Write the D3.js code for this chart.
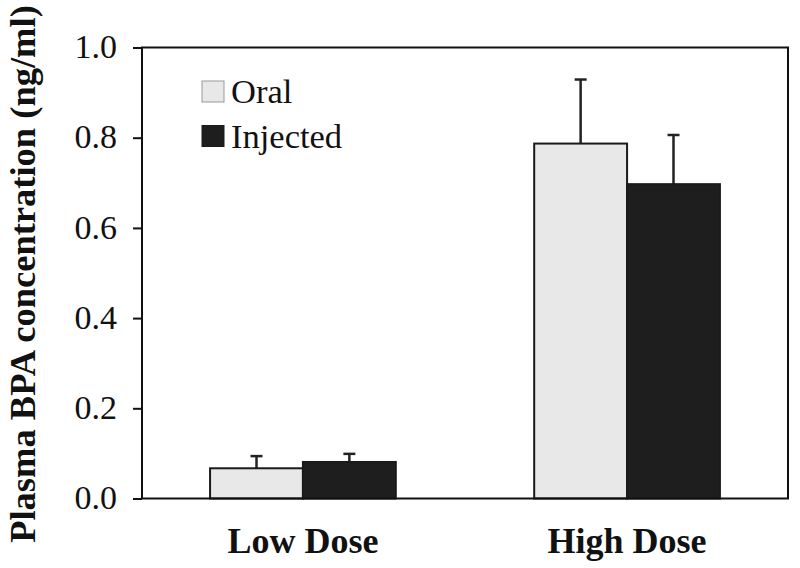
<!DOCTYPE html>
<html><head><meta charset="utf-8">
<script src="https://cdn.jsdelivr.net/npm/d3@7"></script>
<style>body{margin:0;background:#fff}svg{display:block}</style>
</head><body>
<script>
const categories = ["Low Dose", "High Dose"];
const seriesNames = ["Oral", "Injected"];
const oralValues = [0.067, 0.787];
const oralErrors = [0.027, 0.142];
const injectedValues = [0.081, 0.697];
const injectedErrors = [0.018, 0.109];
const yTicks = [0.0, 0.2, 0.4, 0.6, 0.8, 1.0];
const colors = ["#e8e8e8", "#1e1e1e"];

const W = 800, H = 568;
const L = 142, R = 788, T = 47.5, B = 498.5;
const svg = d3.select("body").append("svg").attr("width", W).attr("height", H);
const font = "'Liberation Serif','Times New Roman',serif";

const y = d3.scaleLinear().domain([0, 1]).range([B, T]);
const x0 = d3.scaleBand().domain(categories).range([L, R]).paddingInner(0.427).paddingOuter(0.21);
const x1 = d3.scaleBand().domain(seriesNames).range([0, x0.bandwidth()]);

const data = categories.map((c, i) => ({
  cat: c,
  vals: [
    {s: "Oral", v: oralValues[i], e: oralErrors[i]},
    {s: "Injected", v: injectedValues[i], e: injectedErrors[i]}
  ]
}));

const g = svg.selectAll("g.grp").data(data).enter().append("g")
  .attr("transform", d => `translate(${x0(d.cat)},0)`);

// error bars
g.selectAll("line.err").data(d => d.vals).enter().append("line")
  .attr("x1", d => x1(d.s) + x1.bandwidth()/2).attr("x2", d => x1(d.s) + x1.bandwidth()/2)
  .attr("y1", d => y(d.v)).attr("y2", d => y(d.v + d.e))
  .attr("stroke", "#222").attr("stroke-width", 2.5);
g.selectAll("line.cap").data(d => d.vals).enter().append("line")
  .attr("x1", d => x1(d.s) + x1.bandwidth()/2 - 6).attr("x2", d => x1(d.s) + x1.bandwidth()/2 + 6)
  .attr("y1", d => y(d.v + d.e)).attr("y2", d => y(d.v + d.e))
  .attr("stroke", "#222").attr("stroke-width", 2.5);

g.selectAll("rect").data(d => d.vals).enter().append("rect")
  .attr("x", d => x1(d.s)).attr("width", x1.bandwidth())
  .attr("y", d => y(d.v)).attr("height", d => y(0) - y(d.v))
  .attr("fill", (d, i) => colors[i]).attr("stroke", "#1a1a1a").attr("stroke-width", 2);

// frame
svg.append("rect").attr("x", L).attr("y", T).attr("width", R - L).attr("height", B - T)
  .attr("fill", "none").attr("stroke", "#111").attr("stroke-width", 2);

// y axis
const ay = svg.append("g").attr("transform", `translate(${L},0)`)
  .call(d3.axisLeft(y).tickValues(yTicks).tickFormat(d3.format(".1f")).tickSize(9).tickPadding(16));
ay.select(".domain").remove();
ay.selectAll(".tick line").attr("stroke", "#111").attr("stroke-width", 2);
ay.selectAll(".tick text").attr("font-family", font).attr("font-size", 34).attr("fill", "#111").attr("dy", "0.3em");

// category labels
svg.selectAll("text.cat").data(categories).enter().append("text")
  .attr("x", d => x0(d) + x0.bandwidth()/2).attr("y", 553)
  .attr("text-anchor", "middle").attr("font-family", font).attr("font-weight", "bold")
  .attr("font-size", 36).attr("fill", "#111").text(d => d);

// y label
svg.append("text").attr("transform", "translate(35,274) rotate(-90)")
  .attr("text-anchor", "middle").attr("font-family", font).attr("font-weight", "bold")
  .attr("font-size", 36.5).attr("fill", "#111").text("Plasma BPA concentration (ng/ml)");

// legend
const lg = svg.selectAll("g.leg").data(seriesNames).enter().append("g")
  .attr("transform", (d, i) => `translate(202,${81 + i * 44.5})`);
lg.append("rect").attr("width", 22).attr("height", 21)
  .attr("fill", (d, i) => colors[i]).attr("stroke", (d, i) => i ? "#1a1a1a" : "#999").attr("stroke-width", 1);
lg.append("text").attr("x", 29).attr("y", 22).attr("font-family", font).attr("font-size", 34.5)
  .attr("fill", "#111").text(d => d);
</script>
</body></html>
